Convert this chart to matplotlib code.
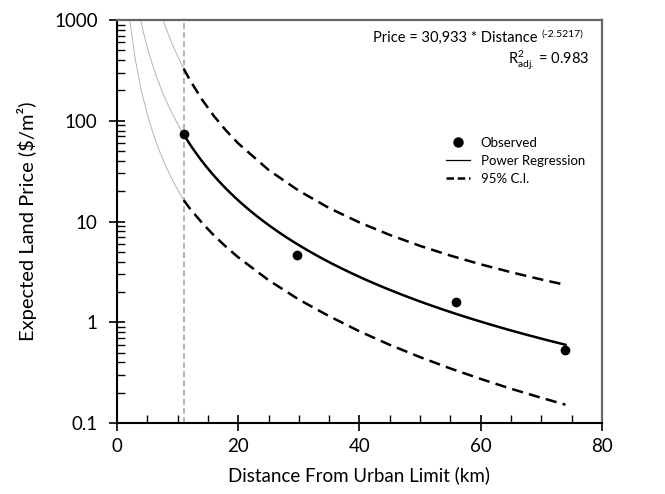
import matplotlib.pyplot as plt
import numpy as np
from matplotlib.lines import Line2D
from matplotlib.ticker import NullFormatter

plt.rcParams['font.family'] = ['Lato', 'DejaVu Sans']
plt.rcParams['mathtext.fontset'] = 'custom'
plt.rcParams['mathtext.rm'] = 'Lato'
plt.rcParams['mathtext.it'] = 'Lato:italic'
plt.rcParams['mathtext.bf'] = 'Lato:bold'

# observed points
dist_obs = [11.0, 29.7, 56.0, 74.0]
price_obs = [74.0, 4.7, 1.6, 0.53]

# power regression (from the annotation)
coef = 30933
expo = -2.5217

# 95% band
dist_ci = [11, 12, 14, 16, 18, 20, 25, 30, 35, 40, 45, 50, 55, 60, 65, 70, 74]
upper_ci = [329, 255, 163, 111, 79.8, 59.6, 32.5, 20.2, 13.6, 9.79, 7.36,
            5.73, 4.59, 3.76, 3.14, 2.66, 2.35]
lower_ci = [16.3, 13.5, 9.74, 7.27, 5.60, 4.41, 2.62, 1.68, 1.15, 0.813, 0.597,
            0.451, 0.348, 0.274, 0.219, 0.178, 0.152]

# grey extensions below the first observation
dist_up_ext = [7.6, 8, 9, 10, 11]
upper_ext = [1000, 853, 598, 437, 329]
dist_lo_ext = [2.1, 3, 4, 5, 6, 7, 8, 9, 10, 11]
lower_ext = [1000, 411, 201, 115, 73.5, 50.0, 35.9, 26.8, 20.6, 16.3]

x_cut = 11.0

# -------------------------------------------------
fig = plt.figure(figsize=(6.65, 4.94), dpi=100)
ax = fig.add_axes([0.176, 0.1437, 0.729, 0.8158])

grey = '#b4b4b4'
d_fit_ext = np.linspace(3.9, x_cut, 60)
d_fit = np.linspace(x_cut, 74, 200)
ax.plot(d_fit_ext, coef * d_fit_ext ** expo, color=grey, lw=0.7)
ax.plot(dist_up_ext, upper_ext, color=grey, lw=0.7)
ax.plot(dist_lo_ext, lower_ext, color=grey, lw=0.7)
ax.axvline(x_cut, color='#a8a8a8', lw=1.2, ls=(0, (3.5, 2)))

ax.plot(d_fit, coef * d_fit ** expo, color='black', lw=1.8)
ax.plot(dist_ci, upper_ci, color='black', lw=1.8, dashes=(4.5, 2.5))
ax.plot(dist_ci, lower_ci, color='black', lw=1.8, dashes=(4.5, 2.5))
ax.plot(dist_obs, price_obs, 'o', color='black', ms=6)

ax.set_yscale('log')
ax.set_xlim(0, 80)
ax.set_ylim(0.1, 1000)
ax.set_xticks([0, 20, 40, 60, 80])
ax.set_xticks(np.arange(0, 81, 5), minor=True)
ax.set_yticks([0.1, 1, 10, 100, 1000])
ax.set_yticklabels(['0.1', '1', '10', '100', '1000'])
y_minor = [m * 10.0 ** e for e in range(-1, 3) for m in range(2, 10)]
ax.set_yticks(y_minor, minor=True)
ax.yaxis.set_minor_formatter(NullFormatter())

ax.tick_params(axis='both', which='major', direction='inout', length=12,
               width=1.2, labelsize=13.5, top=False, right=False)
ax.tick_params(axis='y', which='major', pad=8)
ax.tick_params(axis='x', which='major', pad=5)
ax.tick_params(axis='both', which='minor', direction='in', length=6,
               width=1.0, top=False, right=False)

for s in ['left', 'bottom']:
    ax.spines[s].set_color('black')
    ax.spines[s].set_linewidth(1.5)
for s in ['top', 'right']:
    ax.spines[s].set_color('#666666')
    ax.spines[s].set_linewidth(1.6)

ax.set_xlabel('Distance From Urban Limit (km)', fontsize=13.5, labelpad=8)
ax.set_ylabel('Expected Land Price ($/m²)', fontsize=14.5, labelpad=12)

eq = ax.text(0.867, 0.955, 'Price = 30,933 * Distance',
             transform=ax.transAxes, ha='right', va='center', fontsize=10.5)
ax.annotate('(-2.5217)', xy=(1, 1), xycoords=eq, xytext=(3, 1),
            textcoords='offset points', ha='left', va='top', fontsize=7.5)
ax.text(0.975, 0.90, r'$\mathregular{R^2_{adj.}}$ = 0.983',
        transform=ax.transAxes, ha='right', va='center', fontsize=10.5)

handles = [
    Line2D([], [], marker='o', ls='none', color='black', ms=6.5),
    Line2D([], [], color='black', lw=0.9),
    Line2D([], [], color='black', lw=1.8, dashes=(3, 1.5)),
]
ax.legend(handles, ['Observed', 'Power Regression', '95% C.I.'],
          loc='upper left', bbox_to_anchor=(0.655, 0.74), frameon=False,
          fontsize=9.5, handlelength=1.8, labelspacing=0.45, handletextpad=0.8)

plt.savefig('out.png', dpi=100)
